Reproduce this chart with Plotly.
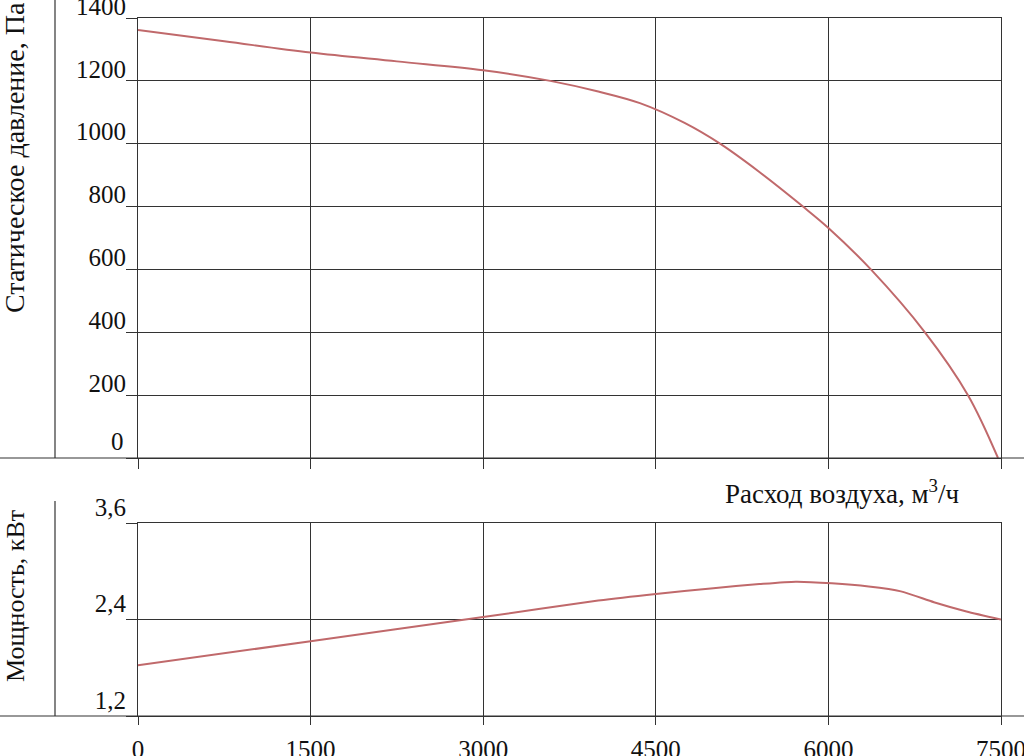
import plotly.graph_objects as go

# ---- data ----
flow_pressure = [0, 750, 1500, 2250, 3000, 3583, 4000, 4362, 4750, 5058, 5400, 5779, 6000, 6369, 6839, 7213, 7474]
static_pressure = [1362, 1326, 1290, 1262, 1234, 1200, 1166, 1129, 1066, 1000, 910, 800, 732, 600, 400, 200, 0]

flow_power = [0, 1500, 3000, 4000, 4500, 5000, 5400, 5717, 6030, 6350, 6630, 6917, 7200, 7500]
power_kw = [1.83, 2.13, 2.43, 2.635, 2.718, 2.79, 2.84, 2.87, 2.85, 2.81, 2.75, 2.615, 2.50, 2.40]

x_ticks = [0, 1500, 3000, 4500, 6000, 7500]
p_ticks = [0, 200, 400, 600, 800, 1000, 1200, 1400]
p_ticktext = ["", "200", "400", "600", "800", "1000", "1200", "1400"]
w_ticks = [1.2, 2.4, 3.6]
w_ticktext = ["1,2", "2,4", "3,6"]

W, H = 1024, 756
LINE = "#333333"
CURVE = "#c0696b"
FONT = "Liberation Serif"

fig = go.Figure()
fig.add_trace(go.Scatter(x=flow_pressure, y=static_pressure, mode="lines",
                         line=dict(color=CURVE, width=2, shape="spline", smoothing=1.0),
                         xaxis="x", yaxis="y", showlegend=False, hoverinfo="skip"))
fig.add_trace(go.Scatter(x=flow_power, y=power_kw, mode="lines",
                         line=dict(color=CURVE, width=2, shape="spline", smoothing=0.6),
                         xaxis="x2", yaxis="y2", showlegend=False, hoverinfo="skip"))

xdom = [138 / W, 1001 / W]
ax_common = dict(showline=True, mirror=True, linecolor=LINE, linewidth=1.2,
                 showgrid=True, gridcolor=LINE, gridwidth=1.2, zeroline=False,
                 ticks="outside", tickcolor=LINE, tickwidth=1.2, automargin=False,
                 ticklabeloverflow="allow",
                 tickfont=dict(family=FONT, size=25, color="#111"))

fig.update_layout(
    width=W, height=H, template="none",
    paper_bgcolor="white", plot_bgcolor="white",
    margin=dict(l=0, r=0, t=0, b=0),
    font=dict(family=FONT, color="#111"),
    xaxis=dict(domain=xdom, range=[0, 7500], tickvals=x_ticks, showticklabels=False,
               ticklen=10, anchor="y", **ax_common),
    yaxis=dict(domain=[1 - 458 / H, 1 - 18 / H], range=[0, 1400], tickvals=p_ticks,
               ticktext=p_ticktext,
               ticklen=11, ticklabelposition="outside top", ticklabelstandoff=6,
               ticklabelshift=6, anchor="x", **ax_common),
    xaxis2=dict(domain=xdom, range=[0, 7500], tickvals=x_ticks, ticklen=8,
                ticklabelstandoff=3, anchor="y2", **ax_common),
    yaxis2=dict(domain=[1 - 716 / H, 1 - 523 / H], range=[1.2, 3.6], tickvals=w_ticks,
                ticktext=w_ticktext, ticklen=11, ticklabelposition="outside top",
                ticklabelstandoff=6, ticklabelshift=2, anchor="x2", **ax_common),
)

def px_x(v):
    return v / W

def px_y(v):
    return 1 - v / H

shapes = [
    dict(type="line", xref="paper", yref="paper", x0=0, x1=1, y0=px_y(458), y1=px_y(458),
         line=dict(color=LINE, width=1.2)),
    dict(type="line", xref="paper", yref="paper", x0=0, x1=1, y0=px_y(716), y1=px_y(716),
         line=dict(color=LINE, width=1.2)),
    dict(type="line", xref="paper", yref="paper", x0=px_x(55), x1=px_x(55), y0=px_y(0), y1=px_y(458),
         line=dict(color=LINE, width=1.2)),
    dict(type="line", xref="paper", yref="paper", x0=px_x(55), x1=px_x(55), y0=px_y(501), y1=px_y(716),
         line=dict(color=LINE, width=1.2)),
]
fig.update_layout(shapes=shapes)

# the "0" pressure label sits a little higher above the axis in the reference
fig.add_annotation(text=str(p_ticks[0]), xref="x", yref="y", x=0, y=p_ticks[0],
                   xanchor="right", yanchor="middle", xshift=-12, yshift=17,
                   showarrow=False, font=dict(family=FONT, size=25, color="#111"))

fig.add_annotation(text="Статическое давление, Па", xref="paper", yref="paper",
                   x=px_x(15), y=px_y(158), textangle=-90, showarrow=False,
                   xanchor="center", yanchor="middle",
                   font=dict(family=FONT, size=28, color="#111"))
fig.add_annotation(text="Мощность, кВт", xref="paper", yref="paper",
                   x=px_x(15), y=px_y(596), textangle=-90, showarrow=False,
                   xanchor="center", yanchor="middle",
                   font=dict(family=FONT, size=26, color="#111"))
fig.add_annotation(text="Расход воздуха, м<sup>3</sup>/ч", xref="paper", yref="paper",
                   x=px_x(961), y=px_y(492), showarrow=False,
                   xanchor="right", yanchor="middle",
                   font=dict(family=FONT, size=27, color="#111"))

fig.write_html("out.html", config={"displayModeBar": False},
               post_script="document.body.style.margin='0';document.body.style.overflow='hidden';")
